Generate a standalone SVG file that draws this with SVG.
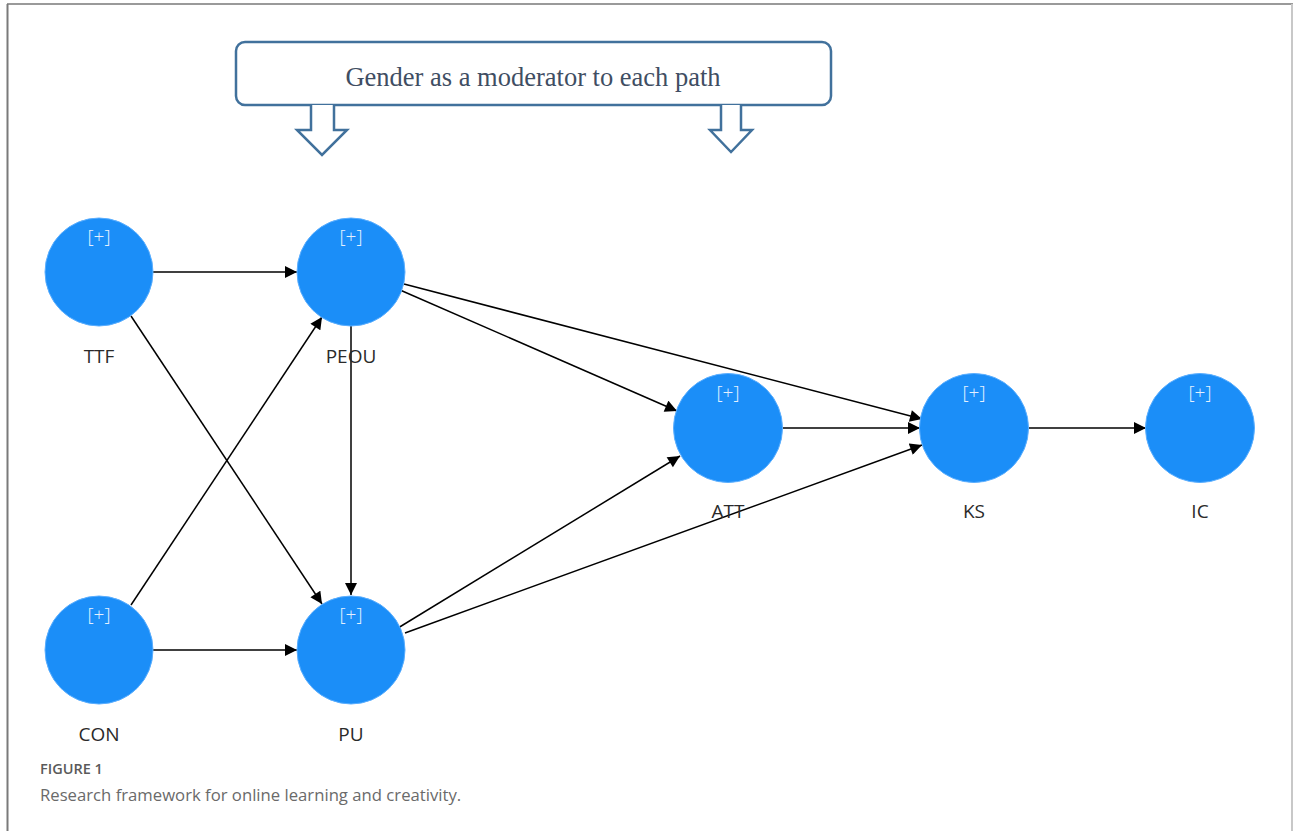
<svg xmlns="http://www.w3.org/2000/svg" width="1293" height="831" viewBox="0 0 1293 831">
<defs>
<marker id="ah" viewBox="0 0 10 10" refX="10" refY="5" markerWidth="13" markerHeight="12" markerUnits="userSpaceOnUse" orient="auto">
<path d="M0,0 L10,5 L0,10 Z" fill="#000"/>
</marker>
</defs>
<style>
.node circle{fill:#1b8ef8;stroke:#5aaeff;stroke-width:1}
.plus{font-family:"Open Sans","Noto Sans",sans-serif;font-size:19px;font-weight:300;fill:#e4f1ff;text-anchor:middle}
.lbl{font-family:"Open Sans","Noto Sans",sans-serif;font-size:19px;fill:#2a2a2a;text-anchor:middle}
.edge{stroke:#000;stroke-width:1.5;fill:none;marker-end:url(#ah)}
.blk{fill:#fff;stroke:#41719c;stroke-width:2.5;stroke-linejoin:miter}
</style>
<rect x="0" y="0" width="1293" height="831" fill="#fff"/>
<line x1="7" y1="4" x2="1293" y2="4" stroke="#9a9a9a" stroke-width="2"/>
<line x1="7.5" y1="4" x2="7.5" y2="831" stroke="#7a7a7a" stroke-width="2"/>
<line x1="1292" y1="4" x2="1292" y2="831" stroke="#c8c8c8" stroke-width="2"/>

<g id="moderator">
<rect class="blk" x="236" y="42" width="595" height="63" rx="9"/>
<text x="533" y="86" font-family="'Liberation Serif',serif" font-size="26.5" fill="#3f4e63" text-anchor="middle">Gender as a moderator to each path</text>
<path class="blk" d="M311,105 L311,130 L297,130 L322,155 L347,130 L334,130 L334,105"/>
<path class="blk" d="M721,105 L721,130 L710,130 L731,152 L752,130 L741,130 L741,105"/>
</g>

<g id="connectors">
<line class="edge" x1="153" y1="272" x2="297" y2="272"/>
<line class="edge" x1="153" y1="650" x2="297" y2="650"/>
<line class="edge" x1="131" y1="316" x2="322" y2="604"/>
<line class="edge" x1="131" y1="605" x2="322" y2="317"/>
<line class="edge" x1="351" y1="326" x2="351" y2="595"/>
<line class="edge" x1="400" y1="290" x2="677" y2="411"/>
<line class="edge" x1="404" y1="284" x2="922" y2="419"/>
<line class="edge" x1="783" y1="428" x2="920" y2="428"/>
<line class="edge" x1="398" y1="628" x2="680" y2="456"/>
<line class="edge" x1="405" y1="633" x2="922" y2="445"/>
<line class="edge" x1="1029" y1="428" x2="1146" y2="428"/>
</g>

<g id="TTF" class="node"><circle cx="99" cy="272" r="54"/><text class="plus" x="99" y="243">[+]</text><text class="lbl" x="99" y="363">TTF</text></g>
<g id="PEOU" class="node"><circle cx="351" cy="272" r="54"/><text class="plus" x="351" y="243">[+]</text><text class="lbl" x="351" y="363">PEOU</text></g>
<g id="CON" class="node"><circle cx="99" cy="650" r="54"/><text class="plus" x="99" y="621">[+]</text><text class="lbl" x="99" y="741">CON</text></g>
<g id="PU" class="node"><circle cx="351" cy="650" r="54"/><text class="plus" x="351" y="621">[+]</text><text class="lbl" x="351" y="741">PU</text></g>
<g id="ATT" class="node"><circle cx="728" cy="428" r="54.5"/><text class="plus" x="728" y="399">[+]</text><text class="lbl" x="728" y="518">ATT</text></g>
<g id="KS" class="node"><circle cx="974" cy="428" r="54.5"/><text class="plus" x="974" y="399">[+]</text><text class="lbl" x="974" y="518">KS</text></g>
<g id="IC" class="node"><circle cx="1200" cy="428" r="54.5"/><text class="plus" x="1200" y="399">[+]</text><text class="lbl" x="1200" y="518">IC</text></g>

<g id="caption">
<text x="40" y="774" font-family="'Open Sans','Noto Sans',sans-serif" font-size="14.5" font-weight="600" fill="#5a5a5a">FIGURE 1</text>
<text x="40" y="801" font-family="'Open Sans','Noto Sans',sans-serif" font-size="16.7" fill="#6a6a6a">Research framework for online learning and creativity.</text>
</g>
</svg>
